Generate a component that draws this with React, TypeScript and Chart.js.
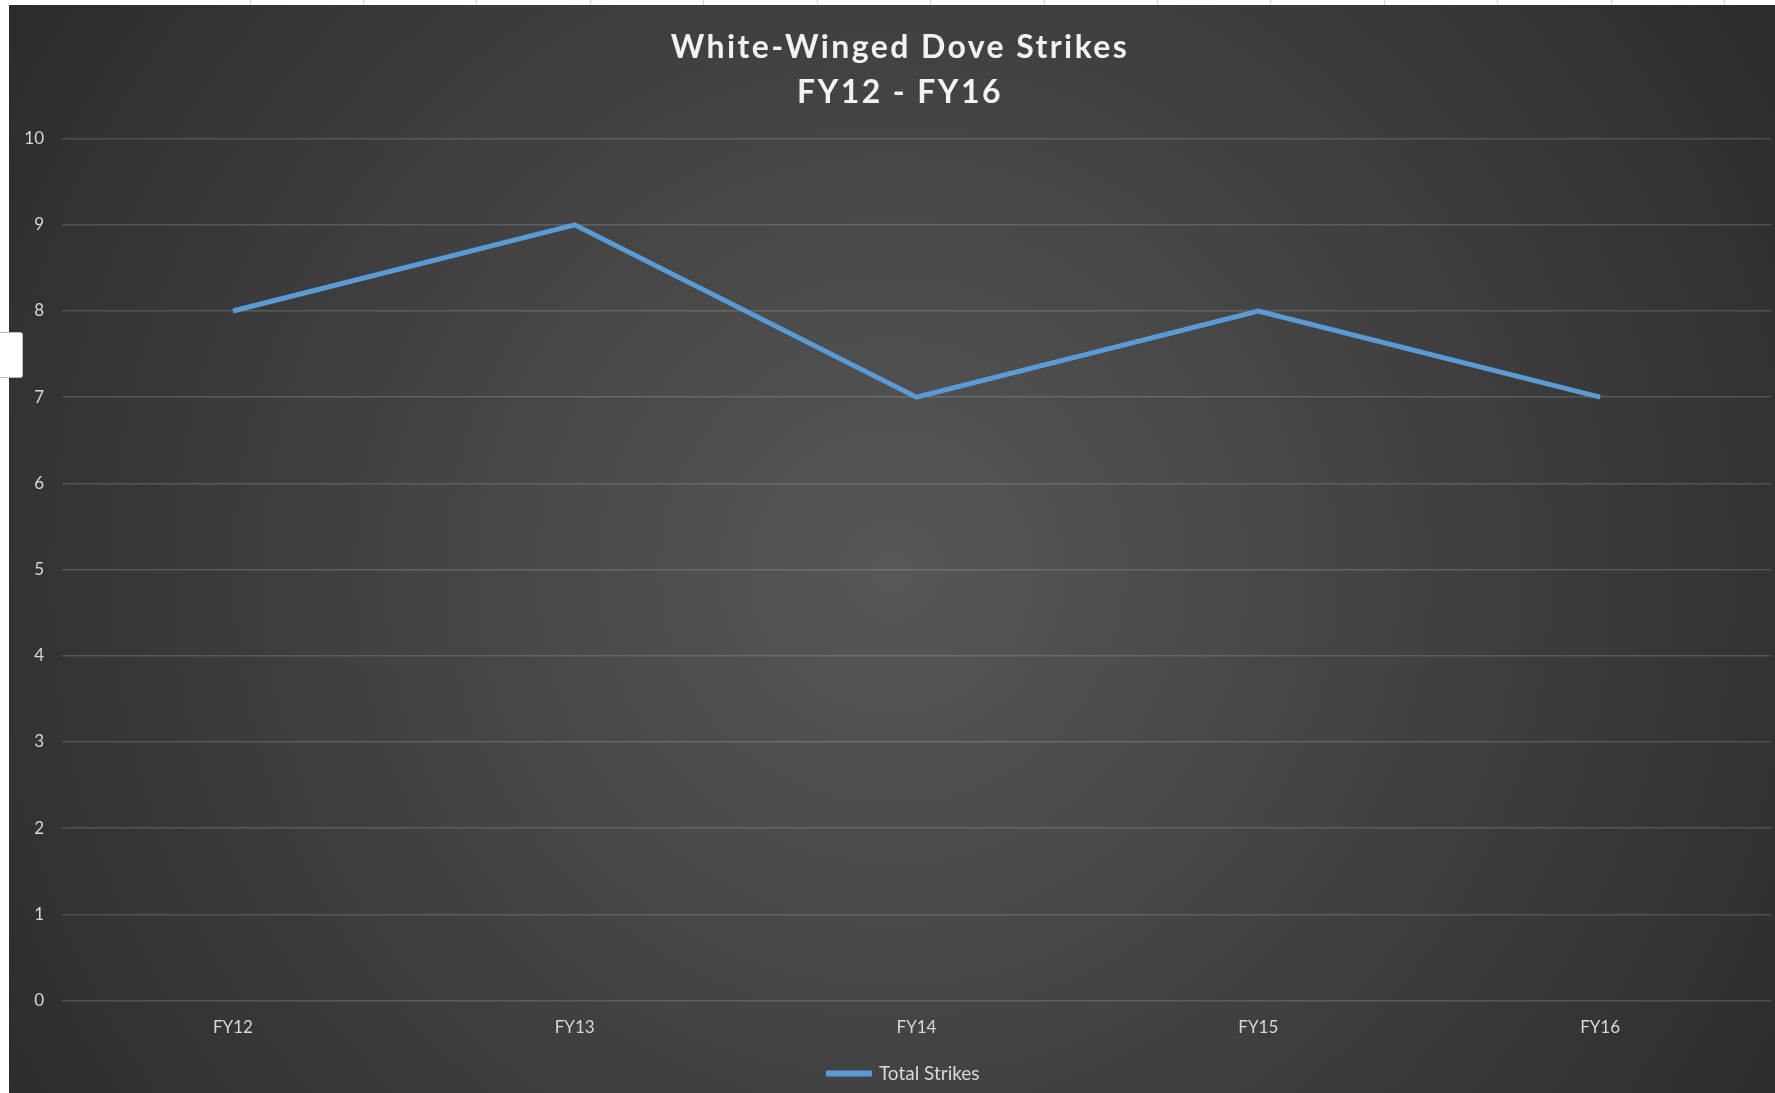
import React, { useEffect, useRef } from "react";
import { Chart, registerables } from "chart.js";

Chart.register(...registerables);

const categories = ["FY12", "FY13", "FY14", "FY15", "FY16"];
const totalStrikes = [8, 9, 7, 8, 7];
const seriesName = "Total Strikes";
const titleLines = ["White-Winged Dove Strikes", "FY12 - FY16"];
const yMin = 0;
const yMax = 10;
const yStep = 1;

function shiftBox(box: any, dx: number, spacing?: string) {
  if (!box || box.__shifted) return;
  const orig = box.draw.bind(box);
  box.draw = (...args: any[]) => {
    const c: any = box.ctx;
    c.save();
    c.translate(dx, 0);
    if (spacing) c.letterSpacing = spacing;
    orig(...args);
    c.restore();
  };
  box.__shifted = true;
}

const bgPlugin = {
  id: "bgGradient",
  beforeDraw(chart: any) {
    const { ctx, width, height } = chart;
    ctx.save();
    const cx = width * 0.5;
    const cy = height * 0.52;
    const g = ctx.createRadialGradient(cx, cy, 0, cx, cy, Math.max(width, height) * 0.62);
    g.addColorStop(0, "#575757");
    g.addColorStop(1, "#2a2a2a");
    ctx.fillStyle = g;
    ctx.fillRect(0, 0, width, height);
    ctx.restore();
    shiftBox(chart.titleBlock, 10, "2.4px");
    shiftBox(chart.legend, 14);
  },
};

export default function App() {
  const ref = useRef<HTMLCanvasElement>(null);
  useEffect(() => {
    document.body.style.margin = "0";
    document.body.style.background = "#ffffff";
    const chart = new Chart(ref.current!, {
      type: "line",
      data: {
        labels: categories,
        datasets: [
          {
            label: seriesName,
            data: totalStrikes,
            borderColor: "#5b9bd5",
            backgroundColor: "#5b9bd5",
            borderWidth: 5,
            pointRadius: 0,
            tension: 0,
          },
        ],
      },
      options: {
        animation: false,
        responsive: false,
        maintainAspectRatio: false,
        layout: { padding: { left: 0, right: 4, top: 0, bottom: 0 } },
        plugins: {
          title: {
            display: true,
            text: titleLines,
            color: "#f2f2f2",
            font: { family: "Lato, 'Open Sans', sans-serif", size: 32, weight: "bold", lineHeight: 1.4 },
            padding: { top: 20, bottom: 24 },
          },
          legend: {
            display: true,
            position: "bottom",
            labels: {
              color: "#d9d9d9",
              font: { family: "Lato, 'Open Sans', sans-serif", size: 19 },
              boxWidth: 41,
              boxHeight: 1,
              padding: 9,
            },
          },
          tooltip: { enabled: false },
        },
        scales: {
          x: {
            offset: true,
            grid: { display: false, drawTicks: false },
            border: { display: false },
            ticks: {
              color: "#d9d9d9",
              font: { family: "Lato, 'Open Sans', sans-serif", size: 17 },
              padding: 17,
            },
          },
          y: {
            min: yMin,
            max: yMax,
            grid: { color: "rgba(255,255,255,0.16)", lineWidth: 1.5, drawTicks: false },
            border: { display: false },
            ticks: {
              stepSize: yStep,
              color: "#d9d9d9",
              font: { family: "Lato, 'Open Sans', sans-serif", size: 17 },
              padding: 18,
            },
            afterFit: (s: any) => {
              s.width = 53;
            },
          },
        },
      },
      plugins: [bgPlugin],
    });
    return () => chart.destroy();
  }, []);

  const cellLines = [250, 363, 476, 590, 703, 817, 930, 1044, 1157, 1270, 1384, 1497, 1611, 1724];
  return (
    <div style={{ position: "relative", width: 1775, height: 1093, overflow: "hidden", background: "#fff" }}>
      {cellLines.map((x) => (
        <div key={x} style={{ position: "absolute", left: x, top: 0, width: 1, height: 5, background: "#d4d4d4" }} />
      ))}
      <canvas
        ref={ref}
        width={1766}
        height={1088}
        style={{ position: "absolute", left: 9, top: 5, width: 1766, height: 1088 }}
      />
      <div
        style={{
          position: "absolute",
          left: 0,
          top: 332,
          width: 23,
          height: 46,
          background: "#fff",
          border: "1px solid #bbb",
          borderLeft: "none",
          borderRadius: "0 3px 3px 0",
          boxSizing: "border-box",
        }}
      />
    </div>
  );
}
